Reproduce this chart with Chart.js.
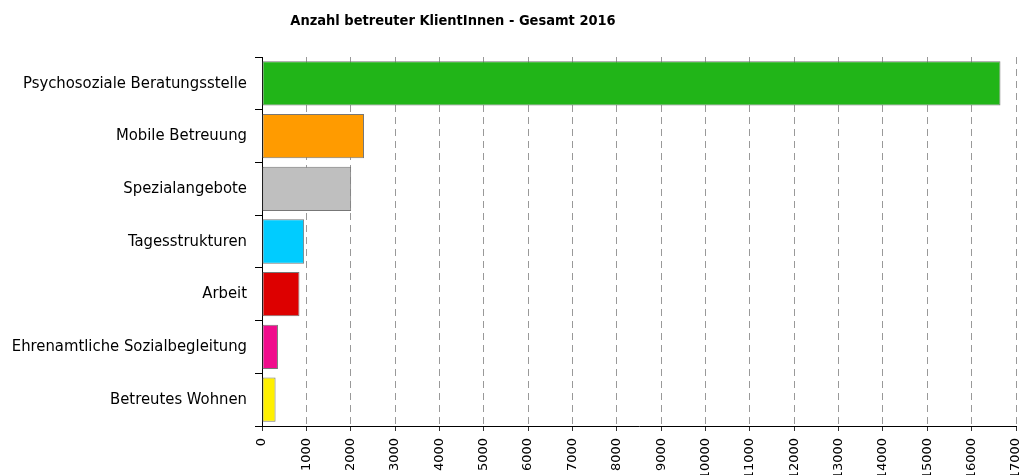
<!DOCTYPE html>
<html>
<head>
<meta charset="utf-8">
<script src="https://cdn.jsdelivr.net/npm/chart.js@4/dist/chart.umd.min.js"></script>
<style>
  html, body { margin: 0; padding: 0; background: #fff; overflow: hidden; }
  .wrap { position: relative; width: 1023px; height: 475px; }
  .title {
    position: absolute; left: 253px; top: 12px; width: 400px; text-align: center;
    font: bold 14.5px 'DejaVu Sans Condensed', sans-serif; color: #000;
  }
</style>
</head>
<body>
<div class="wrap">
  <div class="title">Anzahl betreuter KlientInnen - Gesamt 2016</div>
  <canvas id="chart" width="1023" height="475"></canvas>
</div>
<script>
const categories = [
  'Psychosoziale Beratungsstelle',
  'Mobile Betreuung',
  'Spezialangebote',
  'Tagesstrukturen',
  'Arbeit',
  'Ehrenamtliche Sozialbegleitung',
  'Betreutes Wohnen'
];
const klienten = [16650, 2300, 2010, 950, 845, 360, 306];
const barColors = ['#21b518', '#ff9b00', '#bfbfbf', '#00ccff', '#dd0000', '#f00c8c', '#fff000'];
const xMin = 0;
const xMax = 17000;
const xStep = 1000;

const ctx = document.getElementById('chart').getContext('2d');

new Chart(ctx, {
  type: 'bar',
  data: {
    labels: categories,
    datasets: [
      {
        data: klienten,
        backgroundColor: barColors,
        borderColor: '#777',
        borderWidth: 1,
        borderSkipped: false,
        barPercentage: 0.84,
        categoryPercentage: 1,
      },
    ],
  },
  options: {
    indexAxis: 'y',
    responsive: false,
    animation: false,
    layout: {
      padding: { top: 57, right: 7, left: 0, bottom: 0 },
    },
    scales: {
      x: {
        min: xMin,
        max: xMax,
        afterFit: function(scale) {
          scale.height = 49;
          scale.paddingLeft = 0;
          scale.paddingRight = 0;
        },
        ticks: {
          stepSize: xStep,
          autoSkip: false,
          minRotation: 90,
          maxRotation: 90,
          padding: 7,
          color: '#000',
          font: { family: 'DejaVu Sans', size: 13 },
          callback: function(value) { return String(value); },
        },
        grid: {
          color: '#999',
          tickColor: '#333',
          tickLength: 5,
        },
        border: {
          color: '#000',
          width: 1,
          dash: [7, 5],
        },
      },
      y: {
        afterFit: function(scale) { scale.width = 262; },
        ticks: {
          padding: 8,
          color: '#000',
          font: { family: 'DejaVu Sans Condensed', size: 16.5 },
        },
        grid: {
          drawOnChartArea: false,
          color: '#000',
          tickLength: 7,
        },
        border: {
          color: '#000',
          width: 1,
        },
      },
    },
    plugins: {
      legend: { display: false },
      tooltip: { enabled: false },
    },
  },
});
</script>
</body>
</html>
